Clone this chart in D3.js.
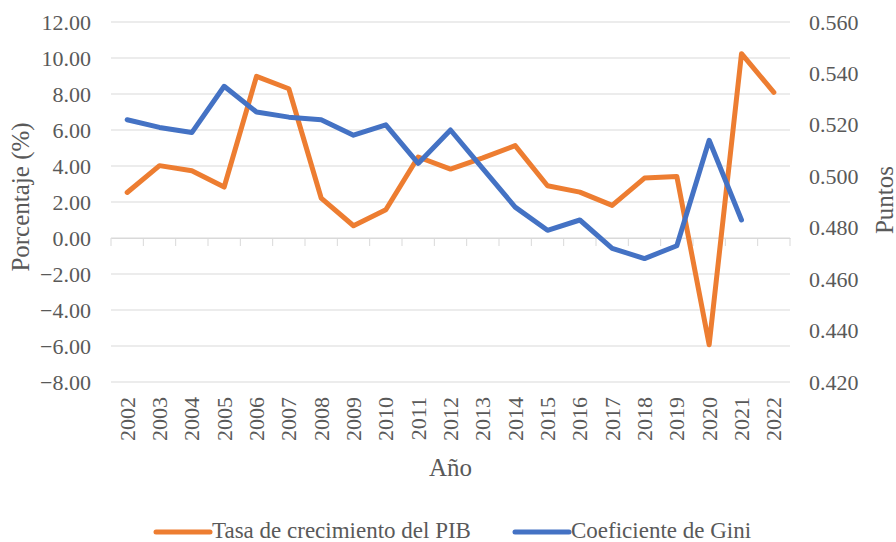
<!DOCTYPE html>
<html>
<head>
<meta charset="utf-8">
<script src="https://cdn.jsdelivr.net/npm/d3@7"></script>
<style>
  body { margin: 0; background: #fff; }
</style>
</head>
<body>
<svg id="chart" width="896" height="542" font-family="'Liberation Serif', 'Times New Roman', Tinos, 'DejaVu Serif', serif"></svg>
<script>
// Data
const years = ['2002','2003','2004','2005','2006','2007','2008','2009','2010','2011','2012',
               '2013','2014','2015','2016','2017','2018','2019','2020','2021','2022'];
const pib = [2.53, 4.02, 3.74, 2.83, 8.98, 8.29, 2.22, 0.68, 1.57, 4.50, 3.83,
             4.45, 5.13, 2.90, 2.55, 1.81, 3.33, 3.42, -5.93, 10.24, 8.09];
const gini = [0.522, 0.519, 0.517, 0.535, 0.525, 0.523, 0.522, 0.516, 0.520, 0.505, 0.518,
              0.503, 0.488, 0.479, 0.483, 0.472, 0.468, 0.473, 0.514, 0.483, null];
const leftTicks = [-8, -6, -4, -2, 0, 2, 4, 6, 8, 10, 12];
const rightTicks = [0.42, 0.44, 0.46, 0.48, 0.50, 0.52, 0.54, 0.56];
const seriesNames = ['Tasa de crecimiento del PIB', 'Coeficiente de Gini'];
const colors = ['#ED7D31', '#4472C4'];

const serif = "'Liberation Serif', 'Times New Roman', Tinos, 'DejaVu Serif', serif";
const textColor = '#595959';

const svg = d3.select('#chart');
const plotL = 111, plotR = 790, plotT = 22, plotB = 382;

const x = d3.scaleBand().domain(years).range([plotL, plotR]).padding(0);
const yL = d3.scaleLinear().domain([-8, 12]).range([plotB, plotT]);
const yR = d3.scaleLinear().domain([0.42, 0.56]).range([plotB, plotT]);

// Gridlines
svg.append('g')
    .selectAll('line')
    .data(leftTicks)
    .join('line')
    .attr('x1', plotL).attr('x2', plotR)
    .attr('y1', d => yL(d)).attr('y2', d => yL(d))
    .attr('stroke', '#d9d9d9')
    .attr('stroke-width', 1);

// Category axis crossing at zero
const xAxis = d3.axisBottom(x).tickSize(8).tickFormat('').tickSizeOuter(0);
const xg = svg.append('g')
    .attr('transform', `translate(0,${yL(0)})`)
    .call(xAxis);
xg.select('.domain').attr('stroke', '#d9d9d9');
xg.selectAll('.tick line')
    .attr('stroke', '#d9d9d9')
    .attr('transform', `translate(${-x.bandwidth() / 2},0)`);
// closing tick at the right edge
xg.append('line')
    .attr('x1', plotR).attr('x2', plotR)
    .attr('y1', 0).attr('y2', 8)
    .attr('stroke', '#d9d9d9');

// helper for all chart text
function label(sel, size) {
    return sel.attr('font-family', serif)
        .attr('font-size', size)
        .attr('fill', textColor);
}

// Year labels along the bottom
svg.append('g')
    .selectAll('text')
    .data(years)
    .join('text')
    .attr('transform', d => `translate(${x(d) + x.bandwidth() / 2},397) rotate(-90)`)
    .attr('text-anchor', 'end')
    .attr('dominant-baseline', 'central')
    .call(label, 22)
    .text(d => d);

// Left axis labels
svg.append('g')
    .selectAll('text')
    .data(leftTicks)
    .join('text')
    .attr('x', 91)
    .attr('y', d => yL(d))
    .attr('text-anchor', 'end')
    .attr('dominant-baseline', 'central')
    .call(label, 22)
    .text(d => d3.format('.2f')(d));

// Right axis labels
svg.append('g')
    .selectAll('text')
    .data(rightTicks)
    .join('text')
    .attr('x', 809)
    .attr('y', d => yR(d))
    .attr('dominant-baseline', 'central')
    .call(label, 22)
    .text(d => d3.format('.3f')(d));

// Axis titles
svg.append('text')
    .attr('transform', 'translate(20,197) rotate(-90)')
    .attr('text-anchor', 'middle')
    .attr('dominant-baseline', 'central')
    .call(label, 25)
    .text('Porcentaje (%)');

svg.append('text')
    .attr('transform', 'translate(884,200) rotate(-90)')
    .attr('text-anchor', 'middle')
    .attr('dominant-baseline', 'central')
    .call(label, 25)
    .text('Puntos');

svg.append('text')
    .attr('x', (plotL + plotR) / 2)
    .attr('y', 476)
    .attr('text-anchor', 'middle')
    .call(label, 25)
    .text('Año');

// Lines
const cx = (d, i) => x(years[i]) + x.bandwidth() / 2;

const pibLine = d3.line()
    .x((d, i) => cx(d, i))
    .y(d => yL(d));

const giniLine = d3.line()
    .defined(d => d !== null)
    .x((d, i) => cx(d, i))
    .y(d => yR(d));

svg.append('path')
    .datum(pib)
    .attr('d', pibLine)
    .attr('fill', 'none')
    .attr('stroke', colors[0])
    .attr('stroke-width', 5)
    .attr('stroke-linejoin', 'round')
    .attr('stroke-linecap', 'round');

svg.append('path')
    .datum(gini)
    .attr('d', giniLine)
    .attr('fill', 'none')
    .attr('stroke', colors[1])
    .attr('stroke-width', 5)
    .attr('stroke-linejoin', 'round')
    .attr('stroke-linecap', 'round');

// Legend
const legendX = [156, 515];
const legend = svg.append('g')
    .selectAll('g')
    .data(seriesNames)
    .join('g')
    .attr('transform', (d, i) => `translate(${legendX[i]},532)`);

legend.append('line')
    .attr('x1', 0).attr('x2', 54)
    .attr('y1', 0).attr('y2', 0)
    .attr('stroke', (d, i) => colors[i])
    .attr('stroke-width', 5)
    .attr('stroke-linecap', 'round');

legend.append('text')
    .attr('x', 56)
    .attr('y', 6)
    .call(label, 23)
    .text(d => d);
</script>
</body>
</html>
